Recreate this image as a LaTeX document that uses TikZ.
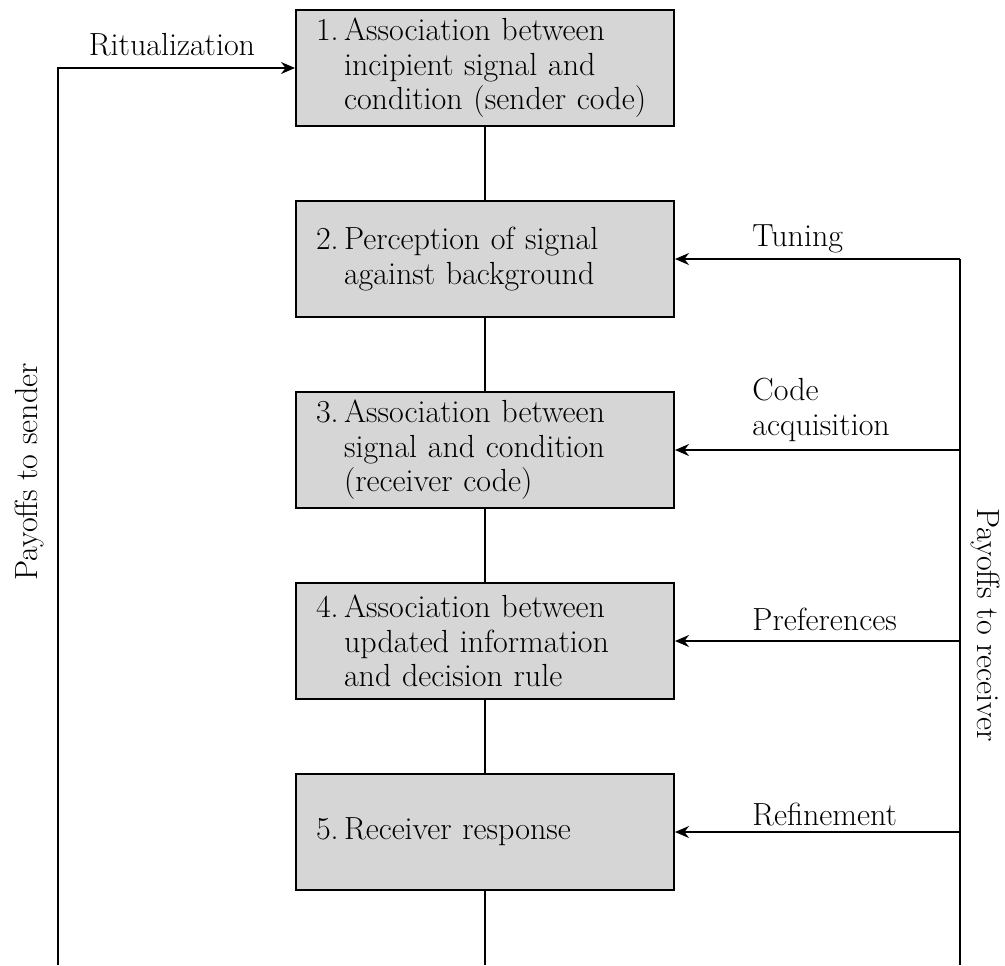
\documentclass[tikz,border=0pt]{standalone}
\usetikzlibrary{positioning,arrows.meta}
\begin{document}
\begin{tikzpicture}[x=0.5pt, y=-0.5pt, node distance=36.5pt,
every node/.style = {font=\fontsize{16}{17.2}\selectfont},
stage/.style = {shape=rectangle, draw, line width=1pt, fill=black!16, minimum height=58pt, text width=169pt, inner xsep=10pt, align=left},
link/.style = {line width=0.8pt},
feed/.style = {line width=0.8pt, -{Stealth[length=7pt,width=6pt]}}]
\useasboundingbox (0,0) rectangle (1005,965);
\node[stage] (s1) at (485,68) {1.\,Association between\\\phantom{1.\,}incipient signal and\\\phantom{1.\,}condition (sender code)};
\node[stage, below=of s1] (s2) {2.\,Perception of signal\\\phantom{2.\,}against background};
\node[stage, below=of s2] (s3) {3.\,Association between\\\phantom{3.\,}signal and condition\\\phantom{3.\,}(receiver code)};
\node[stage, below=of s3] (s4) {4.\,Association between\\\phantom{4.\,}updated information\\\phantom{4.\,}and decision rule};
\node[stage, below=of s4] (s5) {5.\,Receiver response};
\coordinate (lbot) at (58,965);
\coordinate (cbot) at (s5 |- lbot);
\coordinate (rx) at (960,965);
\coordinate (lx) at (748,0);
\draw[link] (s1) -- (s2) (s2) -- (s3) (s3) -- (s4) (s4) -- (s5) (s5) -- (cbot);
\draw[feed] (lbot) |- (s1.west);
\draw[link] (s2.east -| rx) -- (rx);
\foreach \s in {2,...,5}
  \draw[feed] (s\s.east -| rx) -- (s\s.east);
\node (ritual) at (172,45) {Ritualization};
\node[anchor=south west, inner sep=2pt] (tune) at ([yshift=1pt]s2.east -| lx) {Tuning};
\node[anchor=south west, inner sep=2pt, align=left] (code) at ([yshift=2pt]s3.east -| lx) {Code\\acquisition};
\node[anchor=south west, inner sep=2pt] (pref) at ([yshift=3pt]s4.east -| lx) {Preferences};
\node[anchor=south west, inner sep=2pt] (refine) at ([yshift=1pt]s5.east -| lx) {Refinement};
\node[rotate=90] (paysend) at (30,472) {Payoffs to sender};
\node[rotate=-90] (payrec) at (985,625) {Payoffs to receiver};
\end{tikzpicture}
\end{document}
